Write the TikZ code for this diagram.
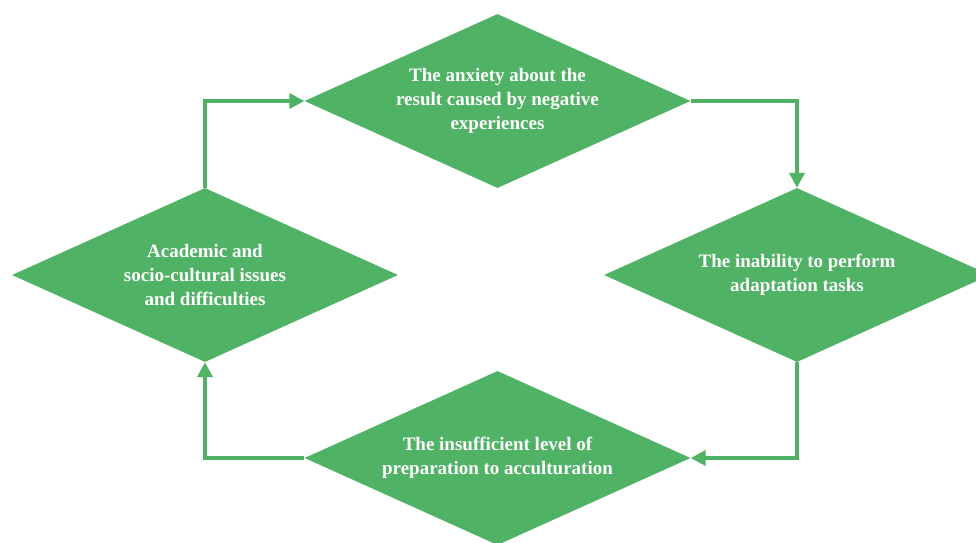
\documentclass[tikz,border=0pt]{standalone}
\usepackage{fontspec}
\setmainfont{Liberation Serif}
\usetikzlibrary{shapes.geometric,arrows.meta}

\definecolor{CycleGreen}{HTML}{50B264}
\tikzstyle{decision}=[diamond, aspect=2.2, fill={CycleGreen}, minimum width=386pt, minimum height=174pt, inner sep=0pt, text=white, align=center, font=\bfseries\fontsize{19}{24}\selectfont]
\tikzstyle{flow}=[draw={CycleGreen}, line width=4pt, -{Triangle[length=15pt,width=15pt]}]

\begin{document}
\begin{tikzpicture}[x=1pt, y=1pt]
      \useasboundingbox (0,0) rectangle (976,542);

      \node (step-1) at (497.5, 441) [decision] {The anxiety about the\\ result caused by negative\\ experiences};
      \node (step-2) at (797,   267) [decision] {The inability to perform\\ adaptation tasks};
      \node (step-3) at (497.5,  84) [decision] {The insufficient level of\\ preparation to acculturation};
      \node (step-4) at (205,   267) [decision] {Academic and\\ socio-cultural issues\\ and difficulties};

      \draw [flow] (step-1.east)  -| (step-2.north);
      \draw [flow] (step-2.south) |- (step-3.east);
      \draw [flow] (step-3.west)  -| (step-4.south);
      \draw [flow] (step-4.north) |- (step-1.west);
    \end{tikzpicture}
\end{document}
